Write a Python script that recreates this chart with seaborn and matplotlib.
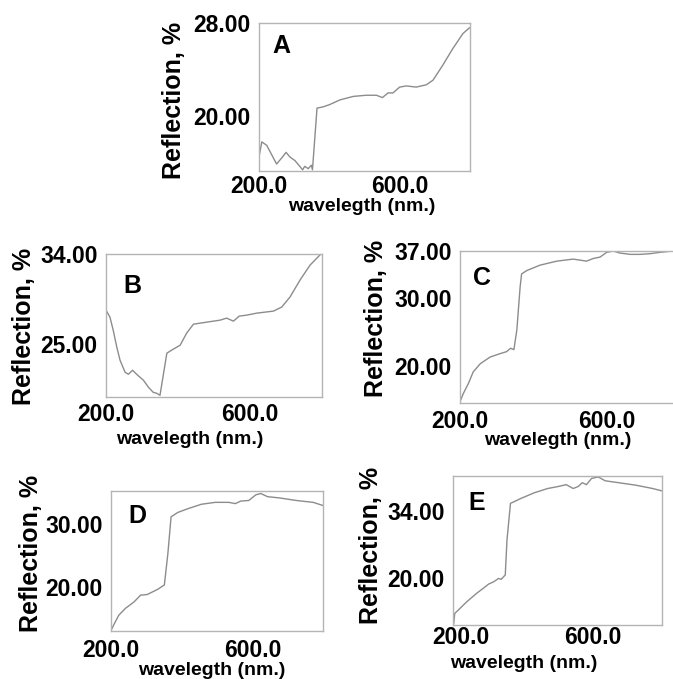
import matplotlib
matplotlib.use("Agg")
import matplotlib.pyplot as plt
import matplotlib.transforms as mtrans
import seaborn as sns
import numpy as np

# ---------------- data ----------------
wl_A = [200, 208, 222, 236, 250, 264, 277, 288, 302, 316, 324, 330, 340, 349, 352, 365, 382, 401, 430,
        468, 505, 534, 551, 567, 581, 600, 619, 647, 676, 695, 723, 751, 780, 799]
refl_A = [16.5, 17.8, 17.5, 16.7, 15.9, 16.4, 16.9, 16.5, 16.2, 15.7, 15.4, 15.7, 15.5, 15.8, 15.4, 20.7,
          20.8, 21.0, 21.4, 21.7, 21.8, 21.8, 21.6, 22.0, 22.0, 22.5, 22.6, 22.5, 22.7, 23.1, 24.4, 25.8,
          27.1, 27.6]

wl_B = [200, 211, 220, 230, 239, 253, 262, 274, 285, 304, 318, 331, 341, 350, 369, 382, 406, 424, 443,
        480, 517, 535, 554, 570, 591, 619, 665, 688, 711, 739, 767, 797]
refl_B = [28.4, 27.7, 26.4, 24.7, 23.4, 22.2, 22.0, 22.4, 22.0, 21.4, 20.7, 20.2, 20.1, 19.9, 24.1, 24.4,
          24.9, 26.1, 27.0, 27.2, 27.4, 27.6, 27.3, 27.8, 27.9, 28.1, 28.3, 28.7, 29.7, 31.4, 32.9, 34.0]

wl_C = [200, 209, 223, 236, 255, 282, 309, 327, 338, 347, 355, 364, 368, 382, 418, 464, 509, 545, 564,
        582, 600, 618, 636, 664, 691, 718, 745, 781]
refl_C = [14.7, 15.9, 17.4, 19.1, 20.3, 21.3, 21.8, 22.1, 22.6, 22.4, 25.3, 31.7, 33.6, 34.1, 34.9, 35.5,
          35.8, 35.5, 35.9, 36.1, 36.8, 37.0, 36.7, 36.5, 36.5, 36.6, 36.8, 37.0]

wl_D = [201, 208, 222, 241, 265, 284, 289, 303, 332, 351, 361, 370, 389, 418, 456, 495, 533, 552, 567,
        590, 610, 624, 643, 677, 724, 772, 800]
refl_D = [13.2, 14.0, 15.5, 16.6, 17.6, 18.7, 18.7, 18.8, 19.6, 20.3, 25.3, 31.1, 31.8, 32.4, 33.1, 33.4,
          33.4, 33.2, 33.6, 33.7, 34.6, 34.8, 34.3, 34.1, 33.7, 33.4, 32.9]

wl_E = [202, 205, 215, 239, 268, 297, 302, 317, 331, 338, 350, 355, 365, 394, 433, 472, 501, 525, 545,
        559, 571, 583, 598, 617, 637, 676, 724, 773, 800]
refl_E = [10.6, 12.7, 13.4, 15.1, 16.9, 18.5, 18.8, 19.3, 20.0, 19.8, 20.7, 28.0, 35.6, 36.6, 37.8, 38.7,
          39.1, 39.5, 38.7, 39.1, 39.9, 39.5, 40.8, 41.1, 40.3, 39.9, 39.4, 38.7, 38.2]

panel_letters = ["A", "B", "C", "D", "E"]
x_major = [200, 600]
x_major_labels = ["200.0", "600.0"]
x_minor = [400, 800]
y_major = {"A": [20, 28], "B": [25, 34], "C": [20, 30, 37], "D": [20, 30], "E": [20, 34]}
y_minor = {"A": [24], "B": [20.5, 29.5], "C": [25], "D": [25], "E": [27]}
y_limits = {"A": (15.3, 28), "B": (19.73, 34), "C": (14.5, 37), "D": (13.0, 35.2), "E": (10.3, 41.3)}
x_label = "wavelegth (nm.)"
y_label = "Reflection, %"

# ---------------- layout (pixels) ----------------
W, H = 673, 679
boxes = {  # left, top, right, bottom
    "A": (259, 23, 470, 171),
    "B": (106, 254, 322, 397),
    "C": (460, 251, 680, 403),
    "D": (111, 491, 323, 631),
    "E": (453, 476, 662, 625),
}
ylab_right = {"A": 186, "B": 36, "C": 388, "D": 43, "E": 383}
ylab_center = {"A": 100, "B": 326, "C": 318, "D": 553, "E": 545}
xlab_top = {"A": 198, "B": 431, "C": 432, "D": 662, "E": 655}
xlab_center = {"A": 362, "B": 190, "C": 558, "D": 212, "E": 524}
xtick_pad = {"A": 2.9, "B": 4.3, "C": 5.0, "D": 5.8, "E": 0.7}
letter_pos = {"A": (272, 53), "B": (123, 293), "C": (473, 285), "D": (128, 523), "E": (468, 510)}

data = {"A": (wl_A, refl_A), "B": (wl_B, refl_B), "C": (wl_C, refl_C),
        "D": (wl_D, refl_D), "E": (wl_E, refl_E)}

sns.set_style("white")
plt.rcParams['font.family'] = ['Liberation Sans', 'DejaVu Sans']
plt.rcParams['font.weight'] = 'bold'
plt.rcParams['text.color'] = 'black'
plt.rcParams['axes.labelcolor'] = 'black'

fig = plt.figure(figsize=(W / 100, H / 100), dpi=100)

line_col = "#8c8c8c"
spine_col = "#b4b4b4"

for key in panel_letters:
    l, t, r, b = boxes[key]
    ax = fig.add_axes([l / W, 1 - b / H, (r - l) / W, (b - t) / H])
    wl, refl = data[key]
    sns.lineplot(x=wl, y=refl, ax=ax, color=line_col, linewidth=1.0, estimator=None)
    ax.set_xlim(200, 800)
    ax.set_ylim(*y_limits[key])
    ax.set_xticks(x_major)
    ax.set_xticklabels(x_major_labels)
    ax.set_xticks(x_minor, minor=True)
    ax.set_yticks(y_major[key])
    ax.set_yticklabels([f"{v:.2f}" for v in y_major[key]])
    ax.set_yticks(y_minor[key], minor=True)
    for s in ax.spines.values():
        s.set_color(spine_col)
        s.set_linewidth(1.0)
    ax.tick_params(axis='x', which='both', direction='in', length=6, color=spine_col,
                   labelsize=16.5, pad=xtick_pad[key], labelcolor='black')
    ax.tick_params(axis='y', which='major', direction='out', length=4, color=spine_col,
                   labelsize=16.5, pad=2, labelcolor='black')
    ax.tick_params(axis='y', which='minor', direction='in', length=3, color=spine_col)
    for lab in ax.get_xticklabels() + ax.get_yticklabels():
        lab.set_fontweight('bold')
    if key == "E":
        lab0 = ax.get_xticklabels()[0]
        lab0.set_transform(lab0.get_transform() +
                           mtrans.ScaledTranslation(8 / 100, 0, fig.dpi_scale_trans))
    ax.set_xlabel(x_label, fontsize=14, fontweight='bold', color='black')
    ax.set_ylabel(y_label, fontsize=18, fontweight='bold', color='black')
    ax.xaxis.set_label_coords((xlab_center[key] - l) / (r - l), (b - xlab_top[key]) / (b - t))
    ax.yaxis.set_label_coords((ylab_right[key] - l) / (r - l), (b - ylab_center[key]) / (b - t))
    lx, ly = letter_pos[key]
    fig.text(lx / W, 1 - ly / H, key, fontsize=18, fontweight='bold', ha='left', va='baseline',
             color='black')

fig.savefig("out.png", dpi=100, facecolor='white')
